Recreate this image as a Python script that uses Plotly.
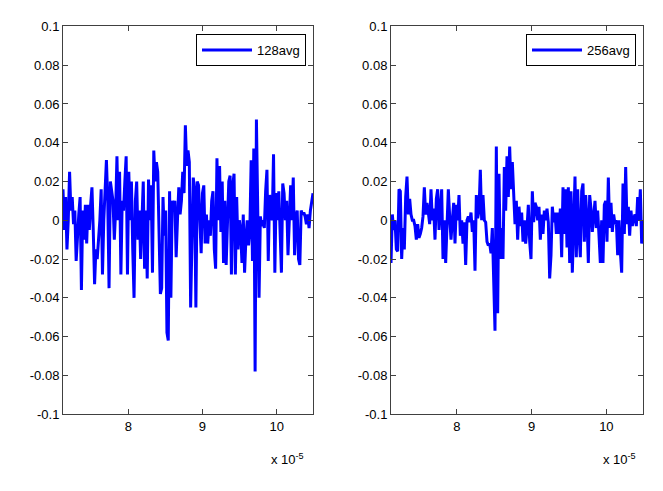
import numpy as np
import plotly.graph_objects as go

# time axis limits (units of 1e-5 s)
t_start = 7.12
t_end = 10.49

avg128 = [
    0.016, -0.005, 0.012, -0.015, 0.0, 0.025, 0.005, 0.012, -0.002, 0.005,
    -0.021, -0.005, 0.003, 0.012, -0.036, 0.005, -0.01, 0.008, -0.012, 0.008,
    -0.005, 0.008, 0.017, -0.005, -0.033, -0.015, -0.02, -0.01, 0.0, 0.016,
    -0.028, 0.0, 0.015, 0.031, 0.01, -0.035, 0.02, 0.015, 0.01, -0.01,
    0.005, 0.033, 0.0, 0.025, -0.028, 0.01, 0.005, 0.02, 0.033, -0.028,
    0.025, 0.0, 0.02, -0.015, -0.04, 0.01, 0.02, -0.01, 0.005, -0.02,
    0.0, 0.02, -0.025, 0.005,
    -0.03, 0.021, 0.0, 0.018, -0.027, 0.036, 0.02, 0.03, 0.025, -0.01,
    -0.038, -0.035, 0.012, -0.008, 0.005, -0.058, -0.062, 0.015, -0.04, 0.01,
    0.008, 0.01, -0.019, 0.0, 0.017, 0.003, 0.01, 0.025, 0.014, 0.049,
    0.028, 0.036, 0.03, -0.045, -0.015, 0.022, 0.015, -0.045, 0.02, 0.018,
    0.0, -0.017, 0.014, 0.018, -0.012, 0.003, -0.012, 0.0, -0.008, 0.01,
    0.015, -0.015, -0.025, 0.032, 0.0, 0.028, -0.006, 0.02, -0.022, 0.01,
    -0.023, 0.005, 0.02, 0.023, -0.028, 0.018,
    0.024, -0.028, 0.012, -0.015, 0.0, -0.005, -0.022, 0.003, -0.027, -0.01,
    0.0, -0.013, -0.005, 0.031, -0.021, 0.037, -0.078, 0.052, 0.012, -0.04,
    0.002, -0.003, 0.0, -0.004, 0.015, 0.026, -0.021, 0.013, 0.008, 0.0,
    0.034, -0.027, 0.014, 0.0, 0.015, -0.013, -0.027, 0.019, 0.014, 0.0,
    0.01, -0.018, 0.004, 0.018, 0.0, 0.022, -0.018, 0.002, 0.005, -0.02,
    -0.023, 0.005, 0.003, 0.004, 0.002, -0.002, 0.003, -0.004, 0.005, 0.01,
    0.014,
]

avg256 = [
    -0.022, 0.003, -0.005, 0.0, -0.015, -0.016, 0.016, 0.015, -0.02, -0.004,
    -0.015, 0.012, 0.0225, 0.003, 0.011, 0.003, 0.0, 0.0, -0.003, -0.01,
    -0.002, -0.009, -0.007, -0.004, 0.002, 0.017, 0.003, 0.009, 0.004, -0.002,
    0.016, 0.0, 0.006, -0.01, 0.011, 0.016, -0.005, 0.006, 0.016, -0.02,
    0.0, -0.022, 0.0, 0.016, 0.002, -0.01, 0.0, 0.009, -0.012, 0.008,
    0.0, 0.013, -0.008, 0.0, -0.012, -0.001, -0.023, 0.0, 0.002, -0.001,
    0.004, -0.006, 0.0, -0.026, 0.013, 0.001, 0.005, 0.026, 0.0, 0.013,
    0.0, -0.001, -0.011, -0.013, -0.012, -0.017, -0.004, -0.033, -0.057, 0.038,
    -0.048, 0.024, -0.02, -0.004, -0.02, 0.0275, 0.005, 0.033, 0.012, 0.038,
    0.016, 0.03, 0.017, -0.002, 0.01, -0.01, 0.007, -0.003, 0.004, -0.011,
    0.0, -0.012, -0.004, 0.008, -0.011, -0.02, 0.015, -0.001, 0.009, 0.007,
    0.0, 0.007, -0.01, 0.003, -0.007, 0.005, 0.0, 0.006, -0.001, -0.03,
    -0.018, 0.007, -0.001, 0.004, -0.007,
    0.004, -0.007, 0.006, -0.019, 0.017, -0.007, 0.016, -0.014, 0.017, -0.022,
    0.015, -0.027, 0.0, 0.0225, -0.019, 0.016, -0.007, -0.019, 0.015, 0.019,
    -0.011, 0.013, 0.0, -0.022, 0.013, 0.006, -0.006, 0.003, 0.01, -0.004,
    0.005, -0.008, -0.022, 0.0, -0.022, 0.008, 0.01, -0.011, 0.022, -0.004,
    0.009, -0.006, 0.003, -0.002, 0.0, -0.018, 0.0, -0.016, -0.027, 0.019,
    -0.007, 0.0275, -0.002, 0.007, -0.008, 0.005, -0.003, 0.001, 0.003, -0.003,
    0.012, 0.0, 0.016, -0.012, 0.0,
]

series_names = ["128avg", "256avg"]
y_tick_vals = [-0.1, -0.08, -0.06, -0.04, -0.02, 0, 0.02, 0.04, 0.06, 0.08, 0.1]
y_tick_text = ["-0.1", "-0.08", "-0.06", "-0.04", "-0.02", "0", "0.02", "0.04", "0.06", "0.08", "0.1"]
x_tick_vals = [8, 9, 10]
x_tick_text = ["8", "9", "10"]

t128 = np.linspace(t_start, t_end, len(avg128))
t256 = np.linspace(t_start, t_end, len(avg256))

W, H = 663, 491
fig = go.Figure()
fig.add_trace(go.Scatter(x=t128, y=avg128, mode="lines", name=series_names[0],
                         line=dict(color="#0000FF", width=3), legend="legend",
                         xaxis="x", yaxis="y"))
fig.add_trace(go.Scatter(x=t256, y=avg256, mode="lines", name=series_names[1],
                         line=dict(color="#0000FF", width=3), legend="legend2",
                         xaxis="x2", yaxis="y2"))

font = dict(family="Liberation Sans, Arial, sans-serif", size=13, color="#000000")
ax_common = dict(showline=True, mirror="ticks", ticks="inside", ticklen=5,
                 linecolor="#404040", linewidth=1, tickcolor="#404040",
                 showgrid=False, zeroline=False, tickfont=font)

left_dom = [63 / W, 313 / W]
right_dom = [391 / W, 643 / W]
y_dom = [(H - 420) / H, (H - 20) / H]

leg_common = dict(xanchor="right", yanchor="top", bordercolor="#000000",
                  borderwidth=1, bgcolor="white", font=font, tracegroupgap=0,
                  itemwidth=50)

fig.update_layout(
    width=W, height=H,
    margin=dict(l=0, r=0, t=0, b=0),
    paper_bgcolor="white", plot_bgcolor="white",
    font=font,
    xaxis=dict(domain=left_dom, range=[t_start, t_end], tickvals=x_tick_vals,
               ticktext=x_tick_text, anchor="y", **ax_common),
    yaxis=dict(domain=y_dom, range=[-0.1, 0.1], tickvals=y_tick_vals,
               ticktext=y_tick_text, anchor="x", **ax_common),
    xaxis2=dict(domain=right_dom, range=[t_start, t_end], tickvals=x_tick_vals,
                ticktext=x_tick_text, anchor="y2", **ax_common),
    yaxis2=dict(domain=y_dom, range=[-0.1, 0.1], tickvals=y_tick_vals,
                ticktext=y_tick_text, anchor="x2", **ax_common),
    legend=dict(x=306 / W, y=(H - 28) / H, **leg_common),
    legend2=dict(x=636 / W, y=(H - 28) / H, **leg_common),
    showlegend=True,
)

for xr in [306 / W, 638 / W]:
    fig.add_annotation(x=xr, y=(H - 466) / H, xref="paper", yref="paper",
                       text="x 10<sup>-5</sup>", showarrow=False,
                       xanchor="right", yanchor="middle", font=font)

fig.write_html("out.html")
